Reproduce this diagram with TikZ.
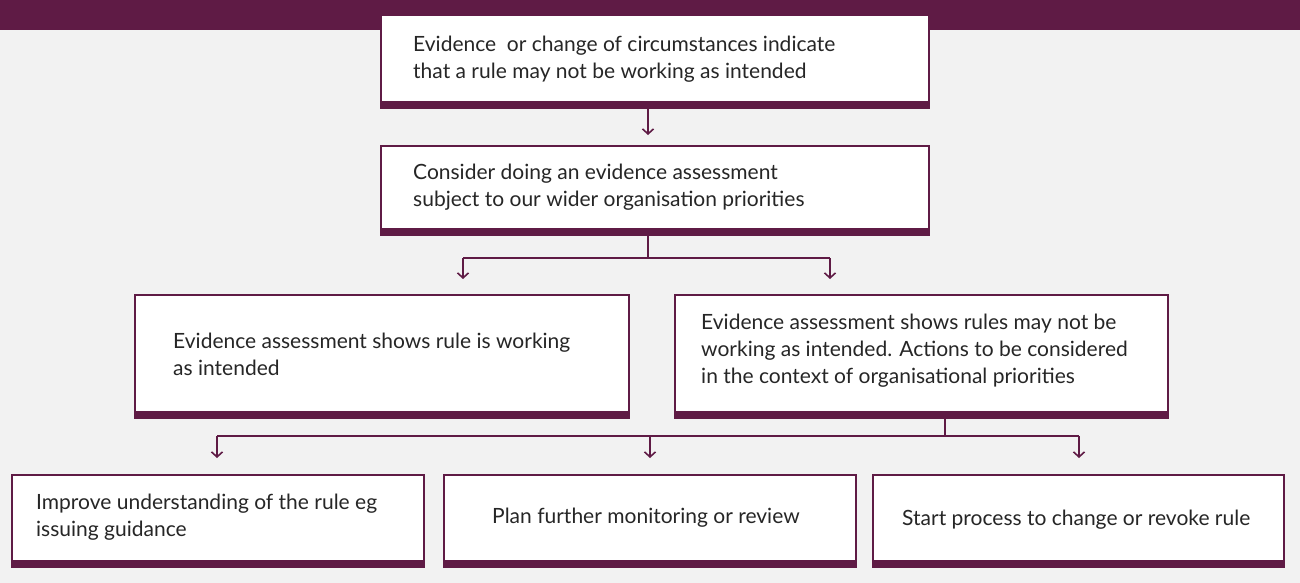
\documentclass[tikz,border=0pt]{standalone}
\usepackage{fontspec}
\setmainfont{Lato}
\usetikzlibrary{arrows.meta}
\definecolor{maroon}{HTML}{5F1B45}
\definecolor{bg}{HTML}{F2F2F2}
\begin{document}
\begin{tikzpicture}[x=1pt,y=-1pt,
  box/.style={draw=maroon,line width=1.2pt,fill=white},
  bar/.style={fill=maroon},
  txt/.style={anchor=west,align=left,inner sep=0pt,font=\fontsize{21}{27}\selectfont,text=black!85},
  conn/.style={draw=maroon,line width=1.6pt},
  arr/.style={conn,-{Straight Barb[length=5pt,width=11pt,line width=1.6pt]}}]
\useasboundingbox (0,0) rectangle (1300,583);
\fill[bg] (0,0) rectangle (1300,583);
\fill[maroon] (0,0) rectangle (1300,30);
\foreach \n/\a/\b/\c/\d in {b1/381/15/929/108,b2/381/146/929/235,b3/135/295/629/418,b4/675/295/1168/418,b5/12/475/424/567,b6/444/475/856/567,b7/873/475/1284/567}{
  \draw[box] (\a,\b) rectangle (\c,\d);
  \fill[bar] (\a-0.6,\d-7) rectangle (\c+0.6,\d+0.6);
  \coordinate (\n) at ({(\a+\c)/2},{(\b+\d)/2});
}
\node[txt] (t1) at (413,59) {Evidence\ \ or change of circumstances indicate\\that a rule may not be working as intended};
\node[txt] (t2) at (413,187) {Consider doing an evidence assessment\\subject to our wider organisation priorities};
\node[txt] (t3) at (173,354) {Evidence assessment shows rule is working\\as intended};
\node[txt] (t4) at (701,351) {Evidence assessment shows rules may not be\\working as intended. Actions to be considered\\in the context of organisational priorities};
\node[txt] (t5) at (36,517) {Improve understanding of the rule eg\\issuing guidance};
\node[txt] (t6) at (492,518) {Plan further monitoring or review};
\node[txt] (t7) at (902,520) {Start process to change or revoke rule};
\coordinate (s1) at (648,108);
\coordinate (e1) at (648,135);
\draw[arr] (s1) -- (e1);
\coordinate (s2) at (648,235);
\coordinate (j2) at (648,258);
\coordinate (l2) at (463,258);
\coordinate (r2) at (830,258);
\draw[conn] (s2) -- (j2) (l2) -- (r2);
\draw[arr] (l2) -- ++(0,21);
\draw[arr] (r2) -- ++(0,21);
\coordinate (s4) at (945,418);
\coordinate (j4) at (945,436);
\coordinate (l4) at (217,436);
\coordinate (m4) at (650,436);
\coordinate (r4) at (1079,436);
\draw[conn] (s4) -- (j4) (l4) -- (r4);
\draw[arr] (l4) -- ++(0,22);
\draw[arr] (m4) -- ++(0,22);
\draw[arr] (r4) -- ++(0,22);
\end{tikzpicture}
\end{document}
